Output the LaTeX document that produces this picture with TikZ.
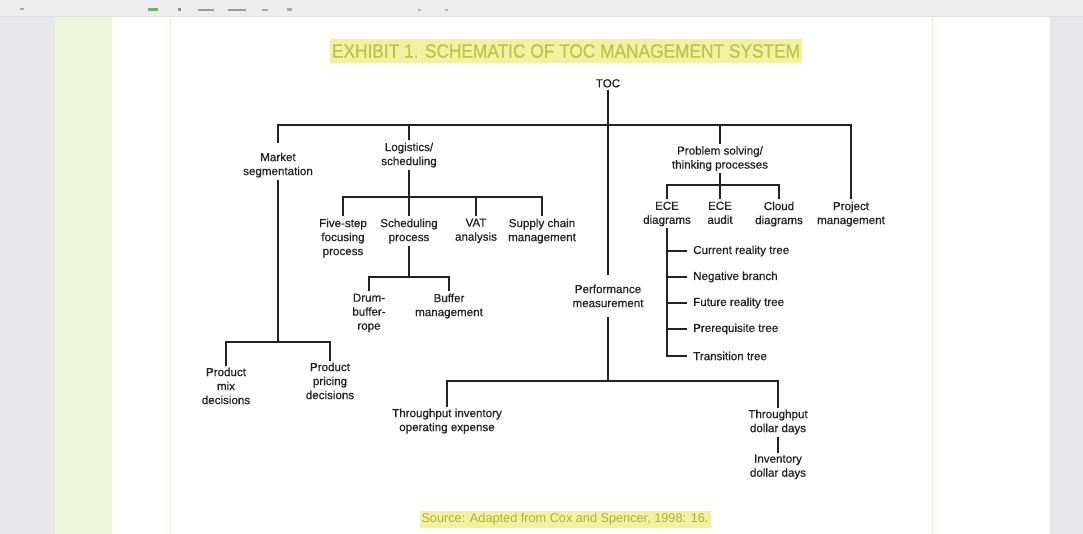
\documentclass[tikz,border=0pt]{standalone}
\usepackage{fontspec}
\setmainfont{Liberation Sans}
\newfontfamily\inkfont{Liberation Sans}[FakeBold=0.6]
\newfontfamily\headfont{Liberation Sans}[FakeBold=0.8]
\usepackage{graphicx}
\definecolor{ink}{HTML}{222222}
\definecolor{paneGrey}{HTML}{E7E7EA}
\definecolor{paneGreen}{HTML}{EEF3DC}
\definecolor{barGrey}{HTML}{EDEDED}
\definecolor{rule}{HTML}{EEF0D4}
\definecolor{hilite}{HTML}{F3F09F}
\definecolor{olive}{HTML}{C2C24A}
\begin{document}
\begin{tikzpicture}[x=1pt,y=-1pt,
  lbl/.style={anchor=north,align=center,inner sep=2pt,text=ink,
    font=\inkfont\fontsize{11.6}{14}\selectfont},
  leaf/.style={anchor=west,inner sep=2pt,text=ink,
    font=\inkfont\fontsize{11.6}{14}\selectfont},
  conn/.style={draw=ink,line width=1.3pt},
  trunk/.style={draw=ink,line width=2pt},
  twig/.style={draw=ink,line width=1.3pt,shorten >=4pt}]
\useasboundingbox (0,0) rectangle (1083,534);
% page surround
\fill[white] (0,0) rectangle (1083,534);
\fill[paneGrey] (0,16) rectangle (55,534);
\fill[paneGreen] (55,16) rectangle (112,534);
\fill[paneGrey] (1050,16) rectangle (1083,534);
\fill[barGrey] (0,0) rectangle (1083,16);
\draw[black!12,line width=0.8pt] (0,16) -- (1083,16);
\draw[rule,line width=1pt] (170,16) -- (170,534);
\draw[rule,line width=1pt] (932,16) -- (932,534);
% toolbar marks
\fill[green!55!black!60] (148,8) rectangle (158,11);
\fill[black!35] (20,8) rectangle (24,10);
\fill[black!45] (178,8) rectangle (181,11);
\fill[black!40] (198,9) rectangle (214,11);
\fill[black!40] (228,9) rectangle (246,11);
\fill[black!35] (262,9) rectangle (268,11);
\fill[black!35] (287,8) rectangle (292,11);
\fill[black!30] (418,9) rectangle (421,11);
\fill[black!30] (445,9) rectangle (448,11);
% title and source
\node[fill=hilite,inner xsep=2pt,inner ysep=5pt,text=olive] (title) at (566,51)
  {\resizebox{468pt}{13.5pt}{\headfont EXHIBIT 1. SCHEMATIC OF TOC MANAGEMENT SYSTEM}};
\node[fill=hilite,inner xsep=2pt,inner ysep=3pt,text=olive!90!black] (source) at (565,519.5)
  {\resizebox{287pt}{!}{Source: Adapted from Cox and Spencer, 1998: 16.}};
% nodes
\node[lbl] (toc) at (608,77) {TOC};
\node[lbl] (market) at (278,150.5) {Market\\segmentation};
\node[lbl] (logi) at (409,140.5) {Logistics/\\scheduling};
\node[lbl] (prob) at (720,144) {Problem solving/\\thinking processes};
\node[lbl] (proj) at (851,199.5) {Project\\management};
\node[lbl] (five) at (343,216.5) {Five-step\\focusing\\process};
\node[lbl] (sched) at (409,216.5) {Scheduling\\process};
\node[lbl] (vat) at (476,216.5) {VAT\\analysis};
\node[lbl] (supply) at (542,216.5) {Supply chain\\management};
\node[lbl] (drum) at (369,291.5) {Drum-\\buffer-\\rope};
\node[lbl] (buffer) at (449,291.5) {Buffer\\management};
\node[lbl] (perf) at (608,282.5) {Performance\\measurement};
\node[lbl] (mix) at (226,365.5) {Product\\mix\\decisions};
\node[lbl] (pricing) at (330,360.5) {Product\\pricing\\decisions};
\node[lbl] (tie) at (447,406.5) {Throughput inventory\\operating expense};
\node[lbl] (tdd) at (778,407.5) {Throughput\\dollar days};
\node[lbl] (idd) at (778,452.5) {Inventory\\dollar days};
\node[lbl] (ece) at (667,199.5) {ECE\\diagrams};
\node[lbl] (audit) at (720,199.5) {ECE\\audit};
\node[lbl] (cloud) at (779,199.5) {Cloud\\diagrams};
\node[leaf] (t1) at (691,251) {Current reality tree};
\node[leaf] (t2) at (691,277) {Negative branch};
\node[leaf] (t3) at (691,303) {Future reality tree};
\node[leaf] (t4) at (691,329) {Prerequisite tree};
\node[leaf] (t5) at (691,356) {Transition tree};
% junction points
\coordinate (bar) at (608,125);
\coordinate (lbar) at (409,197);
\coordinate (sbar) at (409,277);
\coordinate (mbar) at (278,342);
\coordinate (pbar) at (608,381);
\coordinate (ebar) at (720,185);
% connectors
\draw[trunk] (toc.south) -- ([yshift=7pt]perf.north);
\draw[trunk] ([yshift=-8pt]perf.south) -- (pbar);
\draw[conn] ([yshift=7pt]market.north) |- (bar) -| (proj.north);
\draw[conn] (logi.north) -- (logi.north |- bar);
\draw[conn] (prob.north) -- (prob.north |- bar);
\draw[conn] (market.south) -- (mbar);
\draw[conn] (mix.north) |- (mbar) -| (pricing.north);
\draw[conn] (logi.south) -- (sched.north);
\draw[conn] (five.north) |- (lbar) -| (supply.north);
\draw[conn] (vat.north) -- (vat.north |- lbar);
\draw[conn] (sched.south) -- (sbar);
\draw[conn] (drum.north) |- (sbar) -| (buffer.north);
\draw[conn] (tie.north) |- (pbar) -| (tdd.north);
\draw[conn] (tdd.south) -- (idd.north);
\draw[conn] (prob.south) -- (ebar);
\draw[conn] (ece.north) |- (ebar) -| (cloud.north);
\draw[conn] (audit.north) -- (audit.north |- ebar);
\draw[twig] (ece.south) |- (t5.west);
\draw[twig] (ece.south |- t1.west) -- (t1.west);
\draw[twig] (ece.south |- t2.west) -- (t2.west);
\draw[twig] (ece.south |- t3.west) -- (t3.west);
\draw[twig] (ece.south |- t4.west) -- (t4.west);
\end{tikzpicture}
\end{document}
